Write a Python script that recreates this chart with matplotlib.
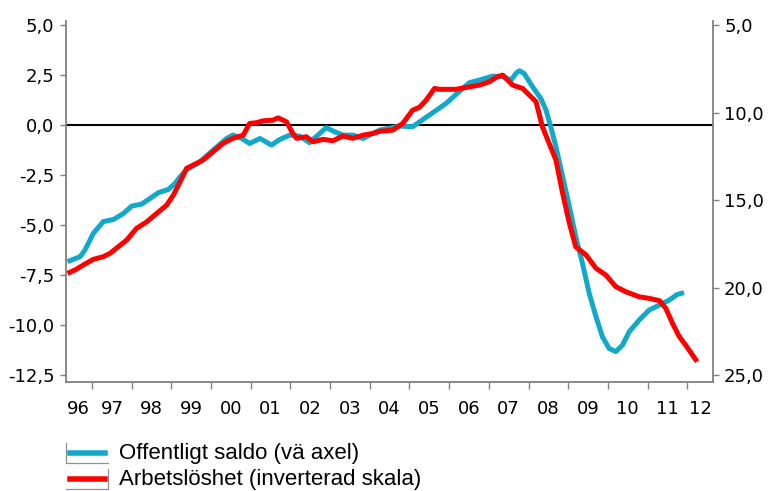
import numpy as np
import matplotlib
matplotlib.use("Agg")
import matplotlib.pyplot as plt
from matplotlib.lines import Line2D

# Offentligt saldo (vänster axel), år som decimaltal
saldo_x = [1996.38, 1996.70, 1996.82, 1997.03, 1997.28, 1997.54, 1997.79, 1998.00, 1998.25, 1998.46,
           1998.67, 1998.92, 1999.09, 1999.22, 1999.38, 1999.72, 2000.05, 2000.39, 2000.55, 2000.77,
           2000.97, 2001.23, 2001.52, 2001.73, 2001.98, 2002.23, 2002.48, 2002.69, 2002.90, 2003.11,
           2003.32, 2003.57, 2003.83, 2004.08, 2004.25, 2004.75, 2005.08, 2005.50, 2005.92, 2006.34,
           2006.51, 2006.76, 2007.10, 2007.35, 2007.56, 2007.68, 2007.77, 2007.89, 2008.10, 2008.31,
           2008.44, 2008.56, 2008.69, 2008.86, 2009.03, 2009.19, 2009.36, 2009.53, 2009.70, 2009.86,
           2010.03, 2010.20, 2010.37, 2010.54, 2010.79, 2011.04, 2011.30, 2011.55, 2011.75, 2011.92]
saldo_y = [-6.83, -6.58, -6.25, -5.42, -4.83, -4.72, -4.42, -4.05, -3.95, -3.67,
           -3.38, -3.22, -2.92, -2.58, -2.25, -1.83, -1.25, -0.67, -0.50, -0.67,
           -0.92, -0.67, -1.00, -0.72, -0.50, -0.55, -0.88, -0.50, -0.13, -0.33,
           -0.50, -0.50, -0.67, -0.42, -0.25, -0.05, -0.08, 0.50, 1.08, 1.83,
           2.12, 2.25, 2.45, 2.42, 2.25, 2.58, 2.72, 2.58, 1.92, 1.33,
           0.75, -0.08, -1.08, -2.58, -4.08, -5.58, -6.92, -8.42, -9.58, -10.58,
           -11.17, -11.33, -11.00, -10.33, -9.75, -9.25, -9.00, -8.75, -8.47, -8.38]

# Arbetslöshet (höger axel, inverterad)
arb_x = [1996.38, 1996.57, 1996.78, 1997.03, 1997.28, 1997.45, 1997.66, 1997.87, 1998.12, 1998.38,
         1998.63, 1998.88, 1999.05, 1999.22, 1999.38, 1999.55, 1999.80, 2000.05, 2000.30, 2000.55,
         2000.81, 2000.97, 2001.14, 2001.31, 2001.56, 2001.69, 2001.90, 2002.06, 2002.15, 2002.40,
         2002.57, 2002.82, 2003.07, 2003.32, 2003.57, 2003.83, 2004.08, 2004.25, 2004.58, 2004.83,
         2005.08, 2005.25, 2005.42, 2005.63, 2005.75, 2006.17, 2006.51, 2006.76, 2007.01, 2007.22,
         2007.35, 2007.60, 2007.85, 2008.19, 2008.35, 2008.52, 2008.69, 2008.86, 2009.03, 2009.19,
         2009.45, 2009.70, 2009.95, 2010.20, 2010.45, 2010.79, 2011.04, 2011.30, 2011.46, 2011.63,
         2011.80, 2011.96, 2012.25]
arb_y = [19.19, 19.00, 18.71, 18.39, 18.24, 18.05, 17.67, 17.29, 16.62, 16.24,
         15.76, 15.29, 14.71, 13.95, 13.19, 13.00, 12.71, 12.24, 11.76, 11.47,
         11.29, 10.62, 10.58, 10.47, 10.43, 10.30, 10.53, 11.19, 11.47, 11.38,
         11.67, 11.53, 11.61, 11.34, 11.47, 11.29, 11.19, 11.07, 11.00, 10.62,
         9.86, 9.70, 9.29, 8.62, 8.67, 8.67, 8.53, 8.43, 8.24, 7.95,
         7.86, 8.43, 8.62, 9.38, 10.81, 11.76, 12.71, 14.62, 16.33, 17.67,
         18.14, 18.90, 19.29, 19.95, 20.24, 20.53, 20.62, 20.75, 21.19, 22.05,
         22.81, 23.29, 24.24]

years = list(range(1997, 2013))
year_labels = ['96', '97', '98', '99', '00', '01', '02', '03', '04', '05',
               '06', '07', '08', '09', '10', '11', '12']
left_ticks = [5.0, 2.5, 0.0, -2.5, -5.0, -7.5, -10.0, -12.5]
right_ticks = [5.0, 10.0, 15.0, 20.0, 25.0]

blue = '#12A9C9'
red = '#FF0000'
grey = '#808080'
xmin, xmax = 1996.33, 2012.65
lmin, lmax = -12.85, 5.2

W, H = 768, 491
fig = plt.figure(figsize=(W / 100, H / 100), dpi=100)
ax = fig.add_axes([0.0853, 0.222, 0.8431, 0.735])
ax2 = ax.twinx()

ax.plot(saldo_x, saldo_y, color=blue, lw=3.6, solid_capstyle='butt', zorder=3)
ax2.plot(arb_x, arb_y, color=red, lw=3.6, solid_capstyle='butt', zorder=4)
ax.axhline(0, color='black', lw=1.5, zorder=2)

ax.set_xlim(xmin, xmax)
ax.set_ylim(lmin, lmax)
# höger skala: 5 <-> 5, 25 <-> -12,5 (inverterad)
conv = lambda v: 5 + (5 - v) * 20 / 17.5
ax2.set_ylim(conv(lmin), conv(lmax))

ax.set_yticks(left_ticks)
ax.set_yticklabels([('%.1f' % t).replace('.', ',') for t in left_ticks])
ax2.set_yticks(right_ticks)
ax2.set_yticklabels([('%.1f' % t).replace('.', ',') for t in right_ticks])

ax.set_xticks(years)
ax.set_xticklabels([])
edges = [xmin] + years + [xmax]
mids = [(edges[i] + edges[i + 1]) / 2 for i in range(len(edges) - 1)]
ax.set_xticks(mids, minor=True)
ax.set_xticklabels(year_labels, minor=True)

for a in (ax, ax2):
    a.spines['top'].set_visible(False)
    for s in ('left', 'right', 'bottom'):
        a.spines[s].set_color(grey)
        a.spines[s].set_linewidth(1.3)
    a.tick_params(axis='y', which='major', length=4, width=1, color=grey,
                  labelsize=13, pad=4)
ax.spines['right'].set_visible(False)
ax2.spines['left'].set_visible(False)
ax2.spines['bottom'].set_visible(False)
ax.tick_params(axis='x', which='major', length=5, width=1, color=grey)
ax.tick_params(axis='x', which='minor', length=0, labelsize=13, pad=13)

# förklaring (pixelkoordinater från övre vänstra hörnet)
def px(x, y):
    return x / W, 1 - y / H

leg_font = dict(family=['Liberation Sans', 'DejaVu Sans'], size=16)
for yy, col, txt in [(453, blue, 'Offentligt saldo (vä axel)'),
                     (479, red, 'Arbetslöshet (inverterad skala)')]:
    (x0, y0), (x1, _) = px(70, yy), px(105, yy)
    fig.add_artist(Line2D([x0, x1], [y0, y0], color=col, lw=4))
    tx, ty = px(119, yy + 1)
    fig.text(tx, ty, txt, va='center', **leg_font)

# grå kantlinjer runt symbolerna
lg = '#909090'
for pts in [[(66, 443), (66, 463), (108, 463)],
            [(108, 469), (108, 489), (66, 489)]]:
    xs, ys = zip(*[px(*p) for p in pts])
    fig.add_artist(Line2D(xs, ys, color=lg, lw=0.9))

fig.savefig('out.png', dpi=100)
